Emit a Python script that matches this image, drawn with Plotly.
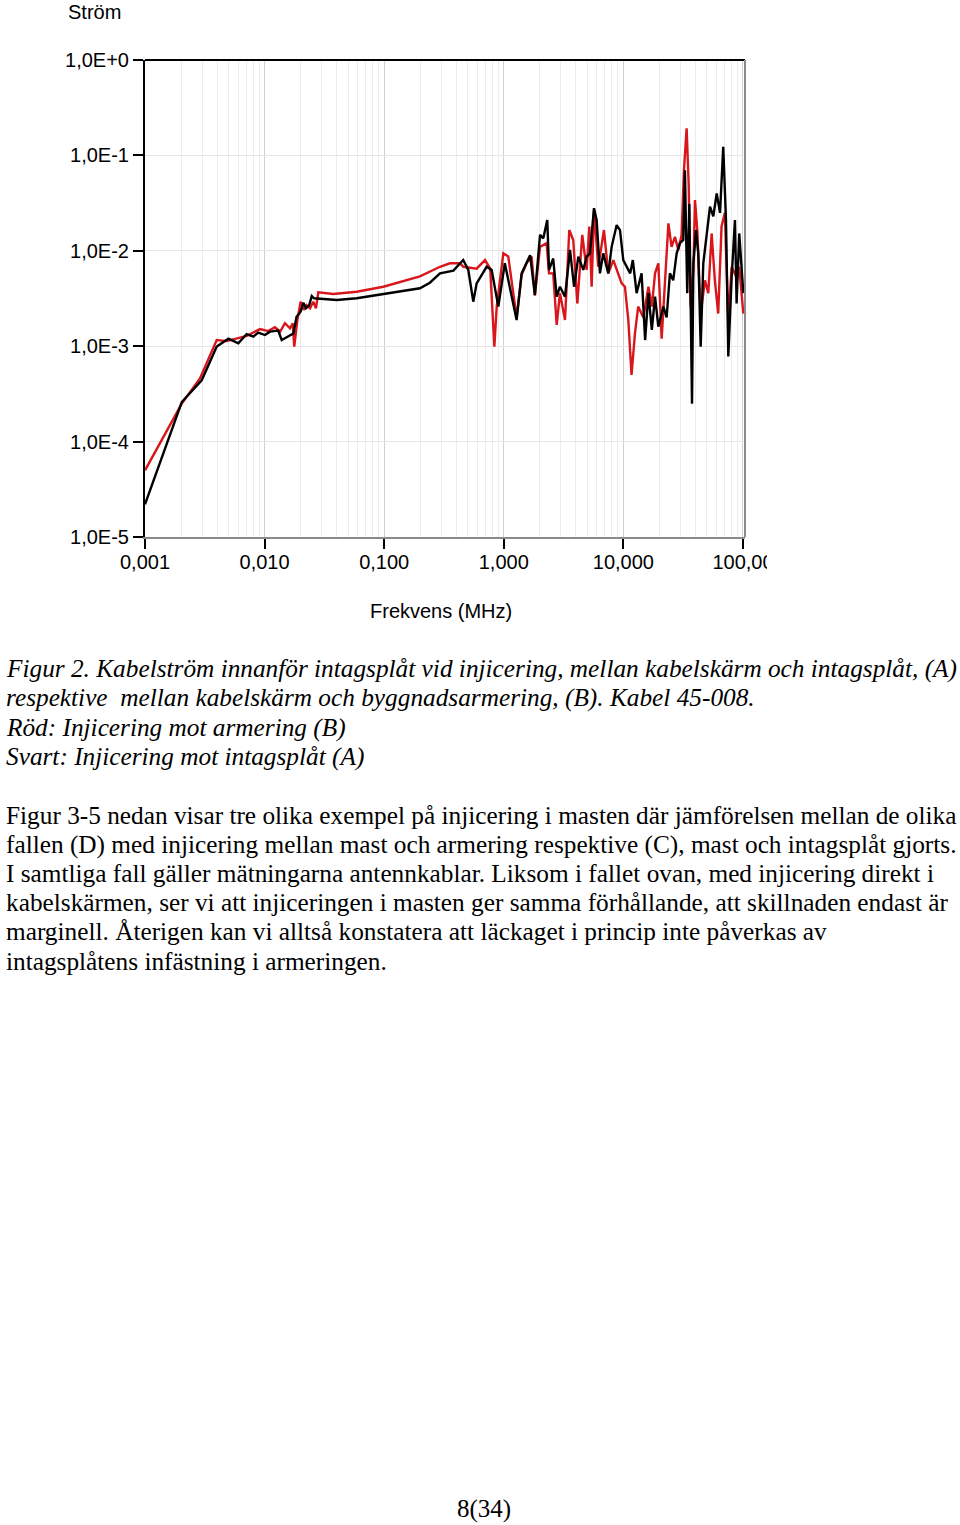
import plotly.graph_objects as go

# ---------------- data ----------------
black_freq = [0.001, 0.00203, 0.00298, 0.00398, 0.00498, 0.00603, 0.00708, 0.00805, 0.00886, 0.01007,
              0.0111, 0.0130, 0.0139, 0.0169, 0.0174, 0.0185, 0.0200, 0.0211, 0.0222, 0.0236,
              0.0248, 0.0259, 0.0401, 0.0589, 0.0984, 0.199, 0.241, 0.293, 0.379, 0.458,
              0.505, 0.556, 0.593, 0.719, 0.792, 0.90, 1.02, 1.28, 1.41, 1.66,
              1.82, 2.01, 2.14, 2.31, 2.39, 2.59, 2.77, 2.95, 3.25, 3.58,
              3.87, 4.20, 4.62, 4.93, 5.26, 5.68, 5.98, 6.37, 6.79, 7.48,
              7.98, 8.79, 9.37, 9.98, 11.4, 12.0, 12.9, 14.2, 15.2, 16.2,
              17.3, 18.4, 19.6, 21.6, 23.0, 24.5, 26.1, 27.9, 29.7, 31.7,
              32.7, 34.2, 35.6, 36.5, 37.5, 38.5, 40.5, 42.3, 44.3, 46.6,
              49.7, 53.0, 56.5, 60.3, 64.3, 68.4, 72.1, 75.4, 80.5, 85.7,
              88.5, 93.1, 100.7]
black_current = [2.2e-5, 2.6e-4, 4.4e-4, 9.9e-4, 1.2e-3, 1.07e-3, 1.34e-3, 1.26e-3, 1.39e-3, 1.31e-3,
                 1.42e-3, 1.46e-3, 1.16e-3, 1.31e-3, 1.36e-3, 2.04e-3, 2.3e-3, 2.86e-3, 2.5e-3, 2.7e-3,
                 3.36e-3, 3.18e-3, 3.05e-3, 3.18e-3, 3.52e-3, 4.05e-3, 4.63e-3, 5.8e-3, 6.2e-3, 8.0e-3,
                 6.3e-3, 2.93e-3, 4.56e-3, 6.8e-3, 6.3e-3, 2.6e-3, 7.4e-3, 1.88e-3, 5.8e-3, 9.0e-3,
                 3.44e-3, 1.47e-2, 1.35e-2, 2.1e-2, 6.3e-3, 8.3e-3, 3.3e-3, 4.2e-3, 3.3e-3, 1.02e-2,
                 4.2e-3, 8.7e-3, 6.3e-3, 8.7e-3, 9.4e-3, 2.8e-2, 2.1e-2, 5.8e-3, 9.4e-3, 5.8e-3,
                 1.1e-2, 1.86e-2, 1.65e-2, 8.0e-3, 5.8e-3, 8.0e-3, 3.6e-3, 5.8e-3, 1.16e-3, 3.6e-3,
                 1.48e-3, 3.3e-3, 1.6e-3, 2.6e-3, 2.0e-3, 5.8e-3, 4.9e-3, 9.4e-3, 1.2e-2, 1.3e-2,
                 7.0e-2, 3.6e-3, 3.1e-2, 2.6e-3, 2.5e-4, 7.4e-3, 1.65e-2, 9.4e-3, 9.9e-4, 7.4e-3,
                 1.4e-2, 2.9e-2, 2.3e-2, 4.0e-2, 2.5e-2, 0.123, 2.1e-2, 7.8e-4, 5.4e-3, 2.1e-2,
                 2.8e-3, 1.52e-2, 3.6e-3]

red_freq = [0.001, 0.00203, 0.00288, 0.00398, 0.00482, 0.00708, 0.00916, 0.0107, 0.0122, 0.0135,
            0.0148, 0.0163, 0.0172, 0.0177, 0.0188, 0.0200, 0.0213, 0.0224, 0.0240, 0.0255,
            0.0269, 0.0281, 0.0375, 0.0589, 0.0984, 0.199, 0.293, 0.355, 0.43, 0.46,
            0.593, 0.697, 0.77, 0.834, 0.873, 0.991, 1.09, 1.28, 1.41, 1.55,
            1.71, 1.82, 2.01, 2.28, 2.39, 2.59, 2.77, 2.95, 3.25, 3.53,
            3.81, 4.12, 4.53, 4.93, 5.19, 5.43, 5.68, 6.17, 6.88, 7.48,
            8.24, 9.08, 9.68, 10.3, 11.0, 11.7, 12.5, 13.3, 14.7, 16.2,
            17.3, 18.4, 19.6, 20.9, 22.3, 23.8, 25.3, 27.0, 28.8, 30.7,
            32.1, 33.8, 35.2, 36.5, 38.5, 39.7, 41.5, 44.3, 48.1, 51.3,
            54.7, 58.2, 62.1, 66.2, 70.6, 75.4, 80.5, 87.4, 93.1, 100.7]
red_current = [5.0e-5, 2.5e-4, 4.6e-4, 1.16e-3, 1.13e-3, 1.28e-3, 1.51e-3, 1.44e-3, 1.58e-3, 1.42e-3,
               1.74e-3, 1.54e-3, 1.74e-3, 9.9e-4, 1.88e-3, 2.93e-3, 2.4e-3, 2.7e-3, 2.5e-3, 2.93e-3,
               2.5e-3, 3.67e-3, 3.52e-3, 3.72e-3, 4.2e-3, 5.4e-3, 6.8e-3, 7.4e-3, 7.4e-3, 6.8e-3,
               6.5e-3, 8.0e-3, 6.5e-3, 9.9e-4, 2.6e-3, 9.4e-3, 8.7e-3, 2.0e-3, 5.6e-3, 7.4e-3,
               8.7e-3, 3.4e-3, 1.1e-2, 1.2e-2, 5.8e-3, 5.8e-3, 1.67e-3, 3.6e-3, 1.88e-3, 1.65e-2,
               1.3e-2, 2.8e-3, 1.47e-2, 6.3e-3, 1.8e-2, 4.2e-3, 2.7e-2, 6.8e-3, 1.65e-2, 5.8e-3,
               8.0e-3, 5.8e-3, 4.56e-3, 4.2e-3, 1.88e-3, 5.0e-4, 1.36e-3, 2.6e-3, 2.0e-3, 4.2e-3,
               2.6e-3, 5.8e-3, 7.4e-3, 1.2e-3, 4.2e-3, 1.94e-2, 1.1e-2, 1.4e-2, 1.02e-2, 1.47e-2,
               7.0e-2, 0.192, 4.7e-2, 2.6e-3, 6.3e-3, 3.4e-2, 1.65e-2, 2.2e-3, 4.9e-3, 3.6e-3,
               1.52e-2, 4.9e-3, 2.2e-3, 1.8e-2, 2.5e-2, 1.88e-3, 6.8e-3, 5.4e-3, 6.8e-3, 2.2e-3]

x_tick_vals = [0.001, 0.01, 0.1, 1, 10, 100]
x_tick_text = ["0,001", "0,010", "0,100", "1,000", "10,000", "100,00"]
y_tick_vals = [1, 0.1, 0.01, 0.001, 0.0001, 0.00001]
y_tick_text = ["1,0E+0", "1,0E-1", "1,0E-2", "1,0E-3", "1,0E-4", "1,0E-5"]

y_title = "Ström"
x_title = "Frekvens (MHz)"
caption_lines = [
    "Figur 2. Kabelström innanför intagsplåt vid injicering, mellan kabelskärm och intagsplåt, (A)",
    "respektive \u00a0mellan kabelskärm och byggnadsarmering, (B). Kabel 45-008.",
    "Röd: Injicering mot armering (B)",
    "Svart: Injicering mot intagsplåt (A)",
]
body_lines = [
    "Figur 3-5 nedan visar tre olika exempel på injicering i masten där jämförelsen mellan de olika",
    "fallen (D) med injicering mellan mast och armering respektive (C), mast och intagsplåt gjorts.",
    "I samtliga fall gäller mätningarna antennkablar. Liksom i fallet ovan, med injicering direkt i",
    "kabelskärmen, ser vi att injiceringen i masten ger samma förhållande, att skillnaden endast är",
    "marginell. Återigen kan vi alltså konstatera att läckaget i princip inte påverkas av",
    "intagsplåtens infästning i armeringen.",
]
page_label = "8(34)"

# ---------------- layout geometry ----------------
FIG_W, FIG_H = 960, 1525
L, R, T, B = 145, 745, 60, 537
PW, PH = R - L, B - T


def px_x(px):
    return (px - L) / PW


def px_y(py):
    return (B - py) / PH


SANS = "Liberation Sans, Arial, sans-serif"
SERIF = "Liberation Serif, Times New Roman, serif"

fig = go.Figure()
fig.add_trace(go.Scatter(x=red_freq, y=red_current, mode="lines",
                         line=dict(color="#d8161b", width=2.4), showlegend=False))
fig.add_trace(go.Scatter(x=black_freq, y=black_current, mode="lines",
                         line=dict(color="#000000", width=2.4), showlegend=False))

fig.update_layout(
    width=FIG_W, height=FIG_H,
    margin=dict(l=L, r=FIG_W - R, t=T, b=FIG_H - B, pad=0),
    paper_bgcolor="white", plot_bgcolor="white",
    showlegend=False,
    font=dict(family=SANS, size=20, color="black"),
    xaxis=dict(type="log", range=[-3, 2.017], tickmode="array",
               tickvals=x_tick_vals, ticktext=x_tick_text,
               ticks="outside", ticklen=10, tickwidth=2, tickcolor="black",
               ticklabelstandoff=-4,
               showgrid=True, gridcolor="#d0d0d0", gridwidth=1,
               minor=dict(dtick="D1", showgrid=True, gridcolor="#ececec", gridwidth=1, ticks=""),
               showline=True, linecolor="#8a8a8a", linewidth=2, mirror=False,
               zeroline=False, tickfont=dict(family=SANS, size=20)),
    yaxis=dict(type="log", range=[-5, 0], tickmode="array",
               tickvals=y_tick_vals, ticktext=y_tick_text,
               ticks="outside", ticklen=10, tickwidth=2, tickcolor="black",
               showgrid=True, gridcolor="#e6e6e6", gridwidth=1,
               showline=True, linecolor="black", linewidth=2, mirror=False,
               zeroline=False, tickfont=dict(family=SANS, size=20)),
)

# frame: black top, grey right
fig.add_shape(type="line", xref="paper", yref="paper", x0=0, x1=1, y0=1, y1=1,
              line=dict(color="black", width=2), layer="above")
fig.add_shape(type="line", xref="paper", yref="paper", x0=1, x1=1, y0=0, y1=1,
              line=dict(color="#8a8a8a", width=2), layer="above")
# clipping of the last x tick label, as in the original
fig.add_shape(type="rect", xref="paper", yref="paper",
              x0=px_x(767), x1=px_x(800), y0=px_y(578), y1=px_y(548),
              fillcolor="white", line=dict(width=0), layer="above")

annotations = []
annotations.append(dict(text=y_title, x=px_x(94), y=px_y(12), xref="paper", yref="paper",
                        xanchor="center", yanchor="middle", showarrow=False,
                        font=dict(family=SANS, size=20)))
annotations.append(dict(text=x_title, x=px_x(441), y=px_y(611), xref="paper", yref="paper",
                        xanchor="center", yanchor="middle", showarrow=False,
                        font=dict(family=SANS, size=20)))
caption_y = [668, 697, 727, 756]
for line, py in zip(caption_lines, caption_y):
    annotations.append(dict(text="<i>" + line + "</i>", x=px_x(4), y=px_y(py), xref="paper", yref="paper",
                            xanchor="left", yanchor="middle", showarrow=False,
                            font=dict(family=SERIF, size=25.3)))
body_y = [815, 844, 873, 902, 931, 961]
for line, py in zip(body_lines, body_y):
    annotations.append(dict(text=line, x=px_x(4), y=px_y(py), xref="paper", yref="paper",
                            xanchor="left", yanchor="middle", showarrow=False,
                            font=dict(family=SERIF, size=25.3)))
annotations.append(dict(text=page_label, x=px_x(484), y=px_y(1509), xref="paper", yref="paper",
                        xanchor="center", yanchor="middle", showarrow=False,
                        font=dict(family=SERIF, size=25)))
fig.update_layout(annotations=annotations)

fig.write_html("out.html")
